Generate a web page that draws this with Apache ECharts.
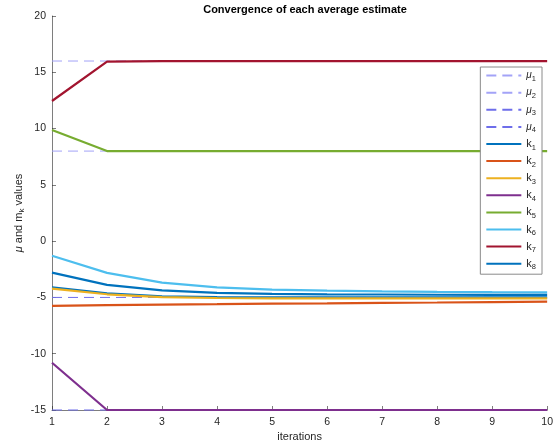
<!DOCTYPE html>
<html>
<head>
<meta charset="utf-8">
<script src="https://cdn.jsdelivr.net/npm/echarts@6/dist/echarts.min.js"></script>
<style>
html,body{margin:0;padding:0;background:#fff;}
#chart{width:556px;height:448px;}
</style>
</head>
<body>
<div id="chart"></div>
<script>
const iterations = [1, 2, 3, 4, 5, 6, 7, 8, 9, 10];
const yTicks = [-15, -10, -5, 0, 5, 10, 15, 20];
const muValues = [16, 8, -5, -15];
const muNames = ['μ1', 'μ2', 'μ3', 'μ4'];
const k1 = [-4.10, -4.63, -4.90, -4.98, -5.00, -5.00, -5.00, -5.00, -5.00, -5.00];
const k2 = [-5.75, -5.68, -5.64, -5.60, -5.55, -5.52, -5.48, -5.45, -5.41, -5.38];
const k3 = [-4.22, -4.72, -4.98, -5.05, -5.08, -5.08, -5.08, -5.08, -5.08, -5.08];
const k4 = [-10.8, -15.0, -15.0, -15.0, -15.0, -15.0, -15.0, -15.0, -15.0, -15.0];
const k5 = [9.88, 8.0, 8.0, 8.0, 8.0, 8.0, 8.0, 8.0, 8.0, 8.0];
const k6 = [-1.30, -2.82, -3.68, -4.10, -4.30, -4.40, -4.46, -4.50, -4.53, -4.55];
const k7 = [12.45, 15.95, 16.0, 16.0, 16.0, 16.0, 16.0, 16.0, 16.0, 16.0];
const k8 = [-2.80, -3.88, -4.38, -4.60, -4.68, -4.72, -4.74, -4.76, -4.77, -4.78];
const kSeries = [k1, k2, k3, k4, k5, k6, k7, k8];
const kNames = ['k1', 'k2', 'k3', 'k4', 'k5', 'k6', 'k7', 'k8'];
const kColors = ['#0072BD', '#D95319', '#EDB120', '#7E2F8E', '#77AC30', '#4DBEEE', '#A2142F', '#0072BD'];
const muColors = ['#a3a3f7', '#a3a3f7', '#6e6eea', '#6e6eea'];

const font = 'Liberation Sans, Arial, Helvetica, sans-serif';
const series = [];
muValues.forEach((v, i) => {
  series.push({
    name: muNames[i], type: 'line', symbol: 'none', clip: false, silent: true,
    data: iterations.map(x => [x, v]),
    lineStyle: { color: muColors[i], width: 1, type: [10, 6] },
    itemStyle: { color: muColors[i] }
  });
});
kSeries.forEach((arr, i) => {
  series.push({
    name: kNames[i], type: 'line', symbol: 'none', clip: false,
    data: iterations.map((x, j) => [x, arr[j]]),
    lineStyle: { color: kColors[i], width: 2.2 },
    itemStyle: { color: kColors[i] }
  });
});

const chart = echarts.init(document.getElementById('chart'), null, { renderer: 'canvas' });
chart.setOption({
  animation: false,
  backgroundColor: '#fff',
  title: {
    text: 'Convergence of each average estimate',
    left: 300, top: -1, textAlign: 'center',
    textStyle: { fontFamily: font, fontSize: 11, fontWeight: 'bold', color: '#000' }
  },
  grid: { left: 52, right: 7, top: 16, bottom: 38 },
  legend: {
    orient: 'vertical', right: 14, top: 67,
    itemWidth: 35, itemHeight: 14, itemGap: 4,
    padding: [3, 6, 3, 5],
    backgroundColor: '#fff', borderColor: '#8a8a8a', borderWidth: 1,
    itemStyle: { opacity: 0 },
    data: muNames.concat(kNames),
    formatter: function (n) {
      const base = n.charAt(0), sub = n.slice(1);
      return (base === 'μ' ? '{m|μ}' : '{b|' + base + '}') + '{s|' + sub + '}';
    },
    textStyle: {
      fontFamily: font, color: '#262626',
      rich: {
        m: { fontSize: 10, fontStyle: 'italic', fontFamily: font, color: '#262626' },
        b: { fontSize: 11, fontFamily: font, color: '#262626' },
        s: { fontSize: 7.5, fontFamily: font, color: '#262626', padding: [7, 0, 0, 0] }
      }
    }
  },
  xAxis: {
    type: 'value', min: 1, max: 10, interval: 1,
    name: 'iterations', nameLocation: 'middle', nameGap: 21, nameMoveOverlap: false,
    nameTextStyle: { fontFamily: font, fontSize: 11, color: '#262626' },
    axisLine: { show: true, onZero: false, lineStyle: { color: '#262626', width: 0.6 } },
    axisTick: { show: true, inside: true, length: 4, lineStyle: { color: '#262626', width: 0.6 } },
    axisLabel: { fontFamily: font, fontSize: 10.5, color: '#262626', margin: 7 },
    splitLine: { show: false }
  },
  yAxis: {
    type: 'value', min: yTicks[0], max: yTicks[yTicks.length - 1], interval: 5,
    name: '{m|μ} and m{s|k} values', nameLocation: 'middle', nameGap: 26, nameRotate: 90,
    nameMoveOverlap: false,
    nameTextStyle: {
      fontFamily: font, fontSize: 11, color: '#262626',
      rich: {
        m: { fontSize: 11, fontStyle: 'italic', fontFamily: font, color: '#262626' },
        s: { fontSize: 8, fontFamily: font, color: '#262626', padding: [6, 0, 0, 0] }
      }
    },
    axisLine: { show: true, lineStyle: { color: '#262626', width: 0.6 } },
    axisTick: { show: true, inside: true, length: 4, lineStyle: { color: '#262626', width: 0.6 } },
    axisLabel: { fontFamily: font, fontSize: 10.5, color: '#262626', margin: 6 },
    splitLine: { show: false }
  },
  series: series
});
</script>
</body>
</html>
